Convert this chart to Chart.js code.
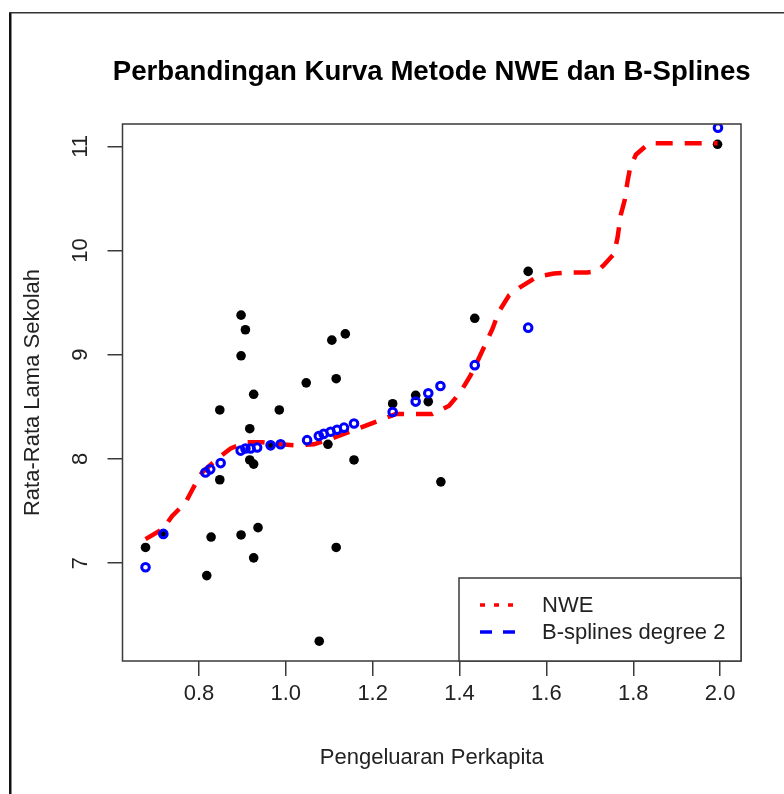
<!DOCTYPE html>
<html>
<head>
<meta charset="utf-8">
<script src="https://cdn.jsdelivr.net/npm/chart.js@4.4.1/dist/chart.umd.min.js"></script>
<style>
  html, body { margin: 0; padding: 0; background: #fff; }
  #wrap { width: 784px; height: 794px; }
</style>
</head>
<body>
<div id="wrap"><canvas id="chart" width="784" height="794"></canvas></div>
<script>
// ---- data -----------------------------------------------------------
const obsX = [0.677, 0.718, 0.818, 0.828, 0.848, 0.848, 0.897, 0.907, 0.897, 0.897, 0.926,
  0.917, 0.917, 0.926, 0.926, 0.936, 0.965, 0.985, 1.047, 1.077, 1.097, 1.106, 1.116,
  1.116, 1.137, 1.157, 1.246, 1.299, 1.328, 1.357, 1.435, 1.558, 1.994];
const obsY = [7.15, 7.28, 6.88, 7.25, 8.47, 7.80, 9.38, 9.24, 8.99, 7.27, 8.62,
  8.29, 7.99, 7.95, 7.05, 7.34, 8.13, 8.47, 8.73, 6.25, 8.14, 9.14, 8.77,
  7.15, 9.20, 7.99, 8.53, 8.61, 8.55, 7.78, 9.35, 9.80, 11.02];

const nweX = [0.677, 0.718, 0.738, 0.769, 0.788, 0.807, 0.842, 0.873, 0.907, 0.926, 0.946,
  0.965, 0.988, 1.026, 1.065, 1.108, 1.172, 1.222, 1.253, 1.299, 1.337, 1.376, 1.402,
  1.425, 1.437, 1.456, 1.476, 1.49, 1.514, 1.54, 1.579, 1.617, 1.659, 1.694, 1.717,
  1.732, 1.756, 1.764, 1.771, 1.78, 1.787, 1.793, 1.806, 1.836, 1.892, 1.994];
const nweY = [7.23, 7.33, 7.45, 7.58, 7.73, 7.87, 8.00, 8.10, 8.16, 8.16, 8.16,
  8.15, 8.14, 8.13, 8.14, 8.20, 8.30, 8.38, 8.43, 8.43, 8.43, 8.51, 8.64,
  8.80, 8.90, 9.07, 9.25, 9.41, 9.57, 9.65, 9.75, 9.78, 9.79, 9.79, 9.80,
  9.86, 9.97, 10.13, 10.34, 10.48, 10.67, 10.80, 10.92, 11.03, 11.03, 11.03];

const bsX = [0.677, 0.718, 0.815, 0.826, 0.850, 0.896, 0.907, 0.919, 0.934, 0.965, 0.988,
  1.049, 1.076, 1.087, 1.103, 1.118, 1.134, 1.157, 1.246, 1.299, 1.328, 1.356, 1.435,
  1.558, 1.995];
const bsY = [6.96, 7.28, 7.87, 7.90, 7.96, 8.08, 8.10, 8.10, 8.11, 8.13, 8.14,
  8.18, 8.22, 8.24, 8.26, 8.28, 8.30, 8.34, 8.45, 8.55, 8.63, 8.70, 8.90,
  9.26, 11.18];

const xTicks = [0.8, 1.0, 1.2, 1.4, 1.6, 1.8, 2.0];
const yTicks = [7, 8, 9, 10, 11];

const titleText = "Perbandingan Kurva Metode NWE dan B-Splines";
const xTitle = "Pengeluaran Perkapita";
const yTitle = "Rata-Rata Lama Sekolah";
const legendLabels = ["NWE", "B-splines degree 2"];

// ---- helpers --------------------------------------------------------
const FONT = "'Liberation Sans', Arial, sans-serif";
const TEXT = "#222";
const LINE = "#3a3a3a";
const pts = (xs, ys) => xs.map((x, i) => ({ x, y: ys[i] }));

// R-style frame, title, box, rotated y labels and legend
const rDecor = {
  id: "rDecor",
  afterDraw(chart) {
    const { ctx, chartArea: a, scales } = chart;
    ctx.save();

    // outer frame (left + top edges of the screenshot)
    ctx.fillStyle = "#111";
    ctx.fillRect(9, 12, 2.5, 782);
    ctx.fillStyle = "#333";
    ctx.fillRect(9, 12, 775, 1.5);

    // plot box
    ctx.strokeStyle = LINE;
    ctx.lineWidth = 1.5;
    ctx.strokeRect(a.left, a.top, a.right - a.left, a.bottom - a.top);

    // title
    ctx.fillStyle = "#000";
    ctx.font = `bold 27.6px ${FONT}`;
    ctx.textAlign = "center";
    ctx.textBaseline = "middle";
    ctx.fillText(titleText, (a.left + a.right) / 2, 72);

    // y tick labels, rotated like R's las = 0
    ctx.fillStyle = TEXT;
    ctx.font = `22px ${FONT}`;
    yTicks.forEach((v) => {
      ctx.save();
      ctx.translate(81, scales.y.getPixelForValue(v));
      ctx.rotate(-Math.PI / 2);
      ctx.fillText(String(v), 0, 0);
      ctx.restore();
    });

    // legend
    const lx = 459, ly = 578;
    ctx.fillStyle = "#fff";
    ctx.fillRect(lx, ly, a.right - lx, a.bottom - ly);
    ctx.strokeStyle = LINE;
    ctx.lineWidth = 1.5;
    ctx.strokeRect(lx, ly, a.right - lx, a.bottom - ly);

    const rows = [
      { y: 605, color: "#ff0000", dash: [5, 9] },
      { y: 632, color: "#0000ff", dash: [12, 11] },
    ];
    rows.forEach((r, i) => {
      ctx.beginPath();
      ctx.setLineDash(r.dash);
      ctx.strokeStyle = r.color;
      ctx.lineWidth = 3.5;
      ctx.moveTo(480, r.y);
      ctx.lineTo(520, r.y);
      ctx.stroke();
      ctx.setLineDash([]);
      ctx.fillStyle = TEXT;
      ctx.textAlign = "left";
      ctx.fillText(legendLabels[i], 542, r.y + 1);
    });

    ctx.restore();
  },
};

new Chart(document.getElementById("chart"), {
  type: "scatter",
  data: {
    datasets: [
      {
        label: "B-splines degree 2",
        data: pts(bsX, bsY),
        pointStyle: "circle",
        pointRadius: 3.8,
        pointBorderWidth: 3,
        pointBorderColor: "#0000ff",
        pointBackgroundColor: "rgba(0,0,0,0)",
        order: 1,
      },
      {
        label: "NWE",
        data: pts(nweX, nweY),
        showLine: true,
        borderColor: "#ff0000",
        borderWidth: 4.5,
        borderDash: [17, 12],
        pointRadius: 0,
        tension: 0,
        order: 2,
      },
      {
        label: "Data",
        data: pts(obsX, obsY),
        pointRadius: 4.8,
        pointBorderWidth: 0,
        pointBackgroundColor: "#000",
        order: 3,
      },
    ],
  },
  options: {
    responsive: false,
    animation: false,
    layout: { padding: { left: 0, top: 124, right: 43, bottom: 0 } },
    plugins: { legend: { display: false }, tooltip: { enabled: false } },
    scales: {
      x: {
        type: "linear",
        position: "bottom",
        min: 0.624,
        max: 2.048,
        afterBuildTicks: (s) => { s.ticks = xTicks.map((v) => ({ value: v })); },
        afterFit: (s) => { s.height = 133; },
        grid: { drawOnChartArea: false, drawTicks: true, tickLength: 15, color: LINE, lineWidth: 1.5 },
        border: { display: false },
        ticks: {
          color: TEXT,
          font: { family: FONT, size: 22 },
          padding: 5,
          autoSkip: false,
          maxRotation: 0,
          callback: (v) => Number(v).toFixed(1),
        },
        title: {
          display: true,
          text: xTitle,
          color: TEXT,
          font: { family: FONT, size: 22 },
          padding: { top: 0, bottom: 23 },
        },
      },
      y: {
        type: "linear",
        position: "left",
        min: 6.06,
        max: 11.215,
        afterBuildTicks: (s) => { s.ticks = yTicks.map((v) => ({ value: v })); },
        afterFit: (s) => { s.width = 122.5; },
        grid: { drawOnChartArea: false, drawTicks: true, tickLength: 15, color: LINE, lineWidth: 1.5 },
        border: { display: false },
        ticks: { display: false },
        title: {
          display: true,
          text: yTitle,
          color: TEXT,
          font: { family: FONT, size: 22 },
          padding: { top: 20, bottom: 0 },
        },
      },
    },
  },
  plugins: [rDecor],
});
</script>
</body>
</html>
